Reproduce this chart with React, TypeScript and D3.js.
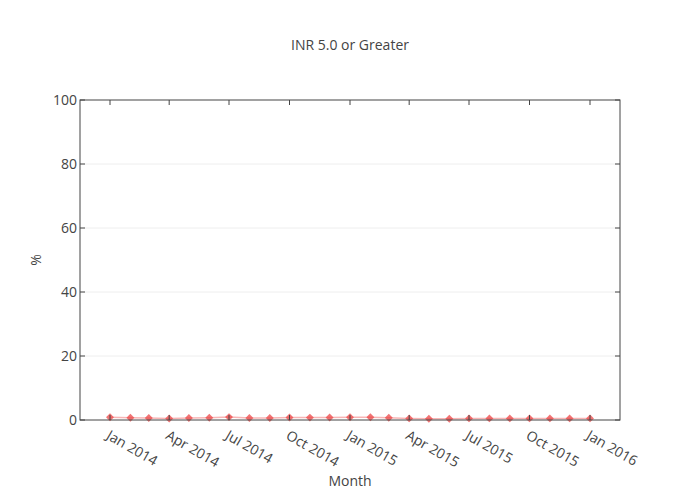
import React from "react";
import * as d3 from "d3";

const months: string[] = [
  "2014-01", "2014-02", "2014-03", "2014-04", "2014-05", "2014-06", "2014-07",
  "2014-08", "2014-09", "2014-10", "2014-11", "2014-12", "2015-01", "2015-02",
  "2015-03", "2015-04", "2015-05", "2015-06", "2015-07", "2015-08", "2015-09",
  "2015-10", "2015-11", "2015-12", "2016-01",
];
const values: number[] = [
  0.85, 0.7, 0.6, 0.45, 0.6, 0.7, 0.9, 0.65, 0.65, 0.8, 0.75, 0.8, 0.85, 0.85,
  0.7, 0.5, 0.4, 0.4, 0.5, 0.5, 0.5, 0.5, 0.5, 0.5, 0.5,
];
const yTicks: number[] = [0, 20, 40, 60, 80, 100];
const xTickDates: string[] = [
  "2014-01", "2014-04", "2014-07", "2014-10", "2015-01", "2015-04", "2015-07", "2015-10", "2016-01",
];
const title = "INR 5.0 or Greater";
const xTitle = "Month";
const yTitle = "%";

const W = 700, H = 500;
const L = 80, R = 620, T = 100, B = 420;
const parse = d3.timeParse("%Y-%m");
const fmt = d3.timeFormat("%b %Y");
const font = "'Open Sans', sans-serif";

export default function App() {
  const dates = months.map((m) => parse(m) as Date);
  const first = dates[0], last = dates[dates.length - 1];
  const pad = (last.getTime() - first.getTime()) / 16;
  const x = d3.scaleTime()
    .domain([new Date(first.getTime() - pad), new Date(last.getTime() + pad)])
    .range([L, R]);
  const y = d3.scaleLinear().domain([0, 100]).range([B, T]);
  const data = dates.map((d, i) => ({ d, v: values[i] }));
  const line = d3.line<{ d: Date; v: number }>().x((p) => x(p.d)).y((p) => y(p.v));
  const diamond = d3.symbol().type(d3.symbolDiamond2).size(40)() as string;
  const xt = xTickDates.map((s) => parse(s) as Date);
  const tickColor = "#444";
  return (
    <svg width={W} height={H} style={{ position: "absolute", left: 0, top: 0, background: "#fff" }} fontFamily={font}>
      <text x={350} y={50} textAnchor="middle" fontSize={14} fill="#444">{title}</text>
      {yTicks.filter((t) => t > 0 && t < 100).map((t) => (
        <line key={"g" + t} x1={L} x2={R} y1={y(t)} y2={y(t)} stroke="#eee" strokeWidth={1} />
      ))}
      <path d={line(data) as string} fill="none" stroke="rgba(240,90,90,0.45)" strokeWidth={1.5} />
      {data.map((p, i) => (
        <path key={"m" + i} d={diamond} transform={`translate(${x(p.d)},${y(p.v)})`} fill="rgba(235,70,70,0.75)" />
      ))}
      {xt.map((d, i) => (
        <g key={"xt" + i}>
          <line x1={x(d)} x2={x(d)} y1={B} y2={B - 5} stroke={tickColor} strokeWidth={1} />
          <line x1={x(d)} x2={x(d)} y1={T} y2={T + 5} stroke={tickColor} strokeWidth={1} />
          <text transform={`translate(${x(d) - 2},${B + 14}) rotate(30)`} textAnchor="start" fontSize={14} fill="#444" dy="0.35em">
            {fmt(d)}
          </text>
        </g>
      ))}
      {yTicks.map((t) => (
        <g key={"yt" + t}>
          <line x1={L} x2={L + 5} y1={y(t)} y2={y(t)} stroke={tickColor} strokeWidth={1} />
          <line x1={R} x2={R - 5} y1={y(t)} y2={y(t)} stroke={tickColor} strokeWidth={1} />
          <text x={L - 3} y={y(t)} dy="0.35em" textAnchor="end" fontSize={14} fill="#444">{t}</text>
        </g>
      ))}
      <rect x={L} y={T} width={R - L} height={B - T} fill="none" stroke="#444" strokeWidth={1} />
      <text x={350} y={486} textAnchor="middle" fontSize={14} fill="#444">{xTitle}</text>
      <text transform={`translate(41,260) rotate(-90)`} textAnchor="middle" fontSize={14} fill="#444">{yTitle}</text>
    </svg>
  );
}
